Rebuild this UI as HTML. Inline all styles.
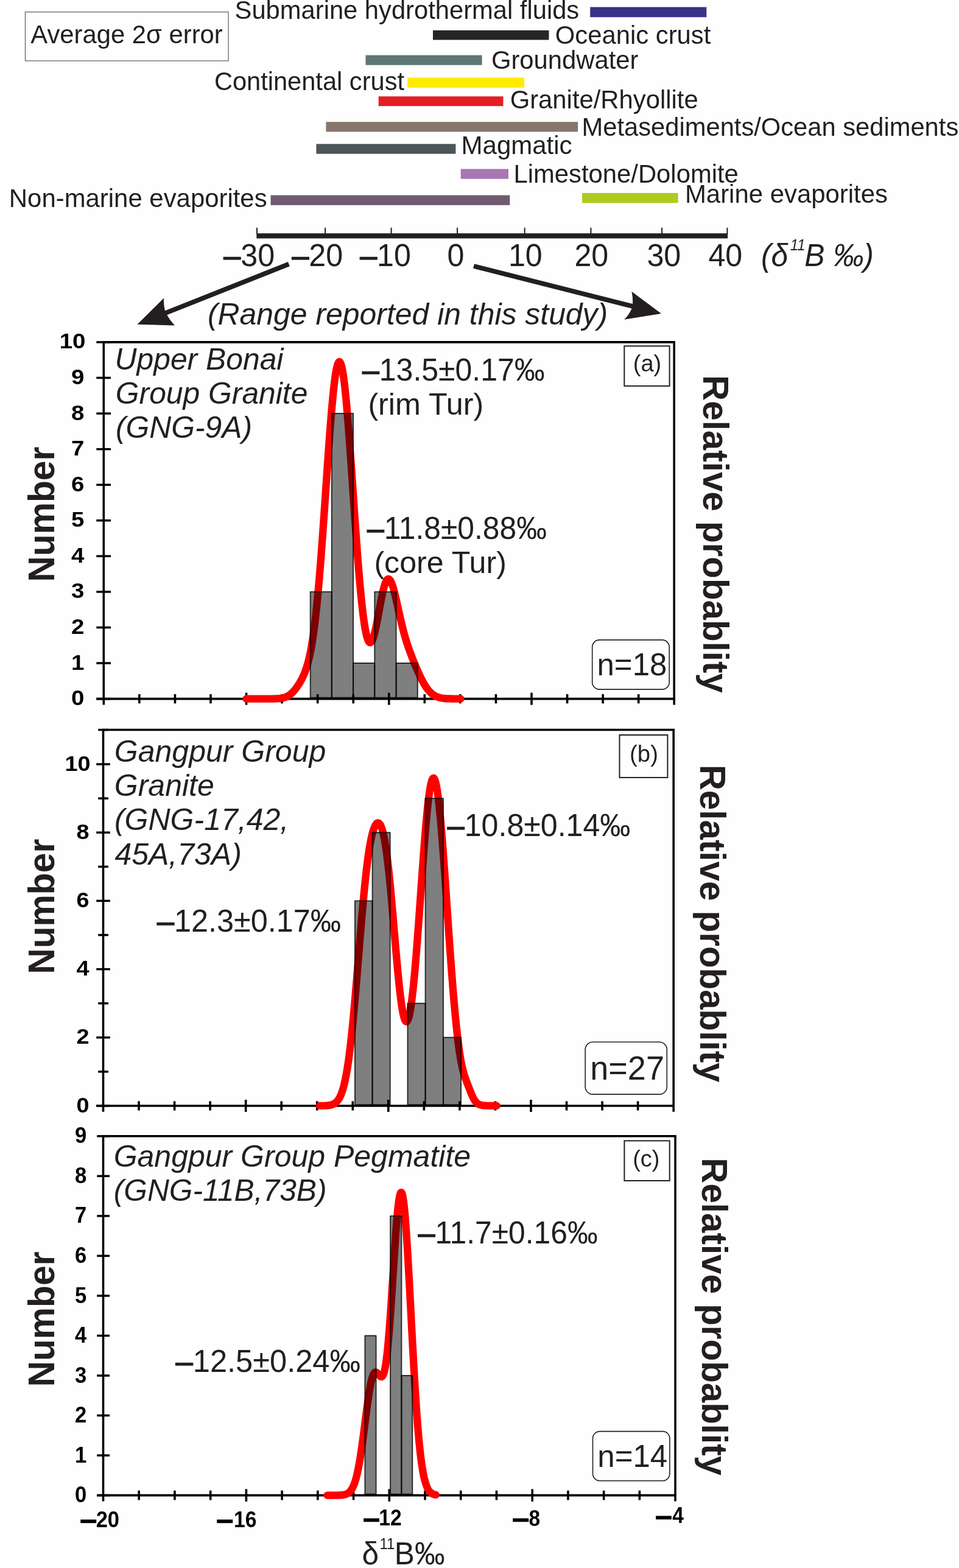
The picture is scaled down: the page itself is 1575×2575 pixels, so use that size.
<!DOCTYPE html>
<html lang="en">
<head>
<meta charset="utf-8">
<title>Boron isotope ranges and histograms</title>
<style>
html,body{margin:0;padding:0;background:#fff;}
body{width:1575px;height:2575px;overflow:hidden;}
svg{display:block;font-family:"Liberation Sans",Arial,Helvetica,sans-serif;}
</style>
</head>
<body>
<svg width="1575" height="2575" viewBox="0 0 1575 2575">
<rect x="0" y="0" width="1575" height="2575" fill="#fefefe"/>
<rect x="41.5" y="19.7" width="333.6" height="80.2" fill="none" stroke="#5a5a5a" stroke-width="1.2"/>
<text x="50.32" y="70.70" font-size="41.8" fill="#231f20">Average 2σ error</text>
<text x="385.61" y="30.50" font-size="41.71" fill="#231f20">Submarine hydrothermal fluids</text>
<text x="911.82" y="72.30" font-size="41.8" fill="#231f20">Oceanic crust</text>
<text x="806.90" y="112.80" font-size="41.8" fill="#231f20">Groundwater</text>
<text x="351.89" y="147.60" font-size="41.6" fill="#231f20">Continental crust</text>
<text x="837.70" y="178.20" font-size="41.8" fill="#231f20">Granite/Rhyollite</text>
<text x="955.58" y="222.50" font-size="41.7" fill="#231f20">Metasediments/Ocean sediments</text>
<text x="757.55" y="253.20" font-size="42.0" fill="#231f20">Magmatic</text>
<text x="843.47" y="299.90" font-size="41.8" fill="#231f20">Limestone/Dolomite</text>
<text x="1124.96" y="333.30" font-size="41.9" fill="#231f20">Marine evaporites</text>
<text x="14.86" y="340.20" font-size="41.9" fill="#231f20">Non-marine evaporites</text>
<text x="340.96" y="533.40" font-size="49.9" font-style="italic" fill="#231f20">(Range reported in this study)</text>
<rect x="969.20" y="11.60" width="191.10" height="16.60" fill="#3b3187"/>
<rect x="711.00" y="49.80" width="190.50" height="15.70" fill="#272625"/>
<rect x="600.50" y="90.60" width="191.10" height="16.20" fill="#5c7674"/>
<rect x="669.20" y="127.40" width="191.80" height="16.60" fill="#ffec00"/>
<rect x="621.70" y="158.30" width="204.80" height="15.90" fill="#e31e24"/>
<rect x="535.40" y="200.20" width="413.70" height="16.20" fill="#86766d"/>
<rect x="519.40" y="236.40" width="229.00" height="16.20" fill="#4c5558"/>
<rect x="756.70" y="277.50" width="78.30" height="16.30" fill="#a876b3"/>
<rect x="444.50" y="320.60" width="392.80" height="16.30" fill="#715b72"/>
<rect x="956.00" y="316.90" width="157.60" height="16.40" fill="#afca1f"/>
<rect x="421.3" y="383.2" width="773.90" height="8.30" fill="#231f20"/>
<rect x="421.00" y="373.9" width="2" height="10.30" fill="#231f20"/>
<rect x="533.10" y="373.9" width="2" height="10.30" fill="#231f20"/>
<rect x="641.60" y="373.9" width="2" height="10.30" fill="#231f20"/>
<rect x="750.10" y="373.9" width="2" height="10.30" fill="#231f20"/>
<rect x="860.70" y="373.9" width="2" height="10.30" fill="#231f20"/>
<rect x="969.40" y="373.9" width="2" height="10.30" fill="#231f20"/>
<rect x="1086.10" y="373.9" width="2" height="10.30" fill="#231f20"/>
<rect x="1193.40" y="373.9" width="2" height="10.30" fill="#231f20"/>
<text transform="translate(367.30 437.00) scale(1 1.03)" font-size="50.2" fill="#231f20"><tspan stroke="#231f20" stroke-width="1.31">–</tspan>30</text>
<text transform="translate(479.40 437.00) scale(1 1.03)" font-size="50.2" fill="#231f20"><tspan stroke="#231f20" stroke-width="1.31">–</tspan>20</text>
<text transform="translate(591.20 437.00) scale(1 1.03)" font-size="50.2" fill="#231f20"><tspan stroke="#231f20" stroke-width="1.31">–</tspan>10</text>
<text transform="translate(734.54 437.00) scale(1 1.03)" font-size="50.2" fill="#231f20">0</text>
<text transform="translate(834.88 437.00) scale(1 1.03)" font-size="50.2" fill="#231f20">10</text>
<text transform="translate(943.38 437.00) scale(1 1.03)" font-size="50.2" fill="#231f20">20</text>
<text transform="translate(1062.39 437.00) scale(1 1.03)" font-size="50.2" fill="#231f20">30</text>
<text transform="translate(1163.45 437.00) scale(1 1.03)" font-size="50.2" fill="#231f20">40</text>
<text transform="translate(1250 437) scale(1 1.05)" font-size="49.8" font-style="italic" fill="#231f20">(δ<tspan font-size="24" dy="-24.4" dx="3.5">11</tspan><tspan dy="24.4" dx="-1.3">B ‰)</tspan></text>
<line x1="474.4" y1="433.6" x2="262" y2="518" stroke="#231f20" stroke-width="7.7"/>
<path d="M225.5 532.7L269 489.6Q268.5 503 271.8 512.6Q277.5 524.5 287 534.4Z" fill="#231f20"/>
<line x1="778" y1="437" x2="1045" y2="504.5" stroke="#231f20" stroke-width="7.7"/>
<path d="M1085.9 514.9L1037.4 478.7Q1040.3 492 1038.4 504.3Q1034.5 515.5 1025.1 524.8Z" fill="#231f20"/>
<path d="M170.3 1157.3999999999999V561.85H1107.2V1157.3999999999999" fill="none" stroke="#000" stroke-width="3.6" stroke-linejoin="miter"/>
<line x1="158.3" y1="1147.6" x2="1107.2" y2="1147.6" stroke="#000" stroke-width="3.6"/>
<line x1="158.3" y1="1147.6" x2="182.0" y2="1147.6" stroke="#000" stroke-width="3.5"/>
<text transform="translate(138.50 1158.10) scale(1.1 1)" font-size="35" font-weight="bold" fill="#000" text-anchor="end">0</text>
<line x1="158.3" y1="1089.03" x2="182.0" y2="1089.03" stroke="#000" stroke-width="3.5"/>
<text transform="translate(138.50 1099.53) scale(1.1 1)" font-size="35" font-weight="bold" fill="#000" text-anchor="end">1</text>
<line x1="158.3" y1="1030.46" x2="182.0" y2="1030.46" stroke="#000" stroke-width="3.5"/>
<text transform="translate(138.50 1040.96) scale(1.1 1)" font-size="35" font-weight="bold" fill="#000" text-anchor="end">2</text>
<line x1="158.3" y1="971.89" x2="182.0" y2="971.89" stroke="#000" stroke-width="3.5"/>
<text transform="translate(138.50 982.39) scale(1.1 1)" font-size="35" font-weight="bold" fill="#000" text-anchor="end">3</text>
<line x1="158.3" y1="913.32" x2="182.0" y2="913.32" stroke="#000" stroke-width="3.5"/>
<text transform="translate(138.50 923.82) scale(1.1 1)" font-size="35" font-weight="bold" fill="#000" text-anchor="end">4</text>
<line x1="158.3" y1="854.75" x2="182.0" y2="854.75" stroke="#000" stroke-width="3.5"/>
<text transform="translate(138.50 865.25) scale(1.1 1)" font-size="35" font-weight="bold" fill="#000" text-anchor="end">5</text>
<line x1="158.3" y1="796.18" x2="182.0" y2="796.18" stroke="#000" stroke-width="3.5"/>
<text transform="translate(138.50 806.68) scale(1.1 1)" font-size="35" font-weight="bold" fill="#000" text-anchor="end">6</text>
<line x1="158.3" y1="737.61" x2="182.0" y2="737.61" stroke="#000" stroke-width="3.5"/>
<text transform="translate(138.50 748.11) scale(1.1 1)" font-size="35" font-weight="bold" fill="#000" text-anchor="end">7</text>
<line x1="158.3" y1="679.04" x2="182.0" y2="679.04" stroke="#000" stroke-width="3.5"/>
<text transform="translate(138.50 689.54) scale(1.1 1)" font-size="35" font-weight="bold" fill="#000" text-anchor="end">8</text>
<line x1="158.3" y1="620.47" x2="182.0" y2="620.47" stroke="#000" stroke-width="3.5"/>
<text transform="translate(138.50 630.97) scale(1.1 1)" font-size="35" font-weight="bold" fill="#000" text-anchor="end">9</text>
<line x1="158.3" y1="561.9" x2="182.0" y2="561.9" stroke="#000" stroke-width="3.5"/>
<text transform="translate(140.50 572.40) scale(1.1 1)" font-size="35" font-weight="bold" fill="#000" text-anchor="end">10</text>
<line x1="228.86" y1="1140.0" x2="228.86" y2="1155.1999999999998" stroke="#000" stroke-width="3.6"/>
<line x1="287.42" y1="1140.0" x2="287.42" y2="1155.1999999999998" stroke="#000" stroke-width="3.6"/>
<line x1="345.98" y1="1140.0" x2="345.98" y2="1155.1999999999998" stroke="#000" stroke-width="3.6"/>
<line x1="404.54" y1="1137.6" x2="404.54" y2="1157.6" stroke="#000" stroke-width="3.6"/>
<line x1="463.10" y1="1140.0" x2="463.10" y2="1155.1999999999998" stroke="#000" stroke-width="3.6"/>
<line x1="521.66" y1="1140.0" x2="521.66" y2="1155.1999999999998" stroke="#000" stroke-width="3.6"/>
<line x1="580.22" y1="1140.0" x2="580.22" y2="1155.1999999999998" stroke="#000" stroke-width="3.6"/>
<line x1="638.78" y1="1137.6" x2="638.78" y2="1157.6" stroke="#000" stroke-width="3.6"/>
<line x1="697.34" y1="1140.0" x2="697.34" y2="1155.1999999999998" stroke="#000" stroke-width="3.6"/>
<line x1="755.90" y1="1140.0" x2="755.90" y2="1155.1999999999998" stroke="#000" stroke-width="3.6"/>
<line x1="814.46" y1="1140.0" x2="814.46" y2="1155.1999999999998" stroke="#000" stroke-width="3.6"/>
<line x1="873.02" y1="1137.6" x2="873.02" y2="1157.6" stroke="#000" stroke-width="3.6"/>
<line x1="931.58" y1="1140.0" x2="931.58" y2="1155.1999999999998" stroke="#000" stroke-width="3.6"/>
<line x1="990.14" y1="1140.0" x2="990.14" y2="1155.1999999999998" stroke="#000" stroke-width="3.6"/>
<line x1="1048.70" y1="1140.0" x2="1048.70" y2="1155.1999999999998" stroke="#000" stroke-width="3.6"/>
<text x="188.58" y="607.20" font-size="49.8" font-style="italic" fill="#231f20">Upper Bonai</text>
<text x="189.84" y="663.00" font-size="49.8" font-style="italic" fill="#231f20">Group Granite</text>
<text x="189.97" y="718.50" font-size="49.8" font-style="italic" fill="#231f20">(GNG-9A)</text>
<text transform="translate(595.00 624.90) scale(1 1.03)" font-size="50.0" fill="#231f20"><tspan stroke="#231f20" stroke-width="1.30">–</tspan>13.5±0.17‰</text>
<text x="604.38" y="680.60" font-size="50.3" fill="#231f20">(rim Tur)</text>
<text transform="translate(603.00 884.50) scale(1 1.03)" font-size="49.8" fill="#231f20"><tspan stroke="#231f20" stroke-width="1.29">–</tspan>11.8±0.88‰</text>
<text x="614.39" y="940.80" font-size="50.2" fill="#231f20">(core Tur)</text>
<text x="1039.84" y="609.80" font-size="38.0" fill="#231f20">(a)</text>
<text transform="translate(980.51 1109.10) scale(1 1.03)" font-size="51.0" fill="#231f20">n=18</text>
<path d="M404.50 1147.60C404.83 1147.60 405.83 1147.60 406.50 1147.60C407.17 1147.60 407.83 1147.60 408.50 1147.60C409.17 1147.60 409.83 1147.60 410.50 1147.60C411.17 1147.60 411.83 1147.60 412.50 1147.60C413.17 1147.60 413.83 1147.60 414.50 1147.60C415.17 1147.60 415.83 1147.60 416.50 1147.60C417.17 1147.60 417.83 1147.60 418.50 1147.60C419.17 1147.60 419.83 1147.60 420.50 1147.60C421.17 1147.60 421.83 1147.60 422.50 1147.60C423.17 1147.60 423.83 1147.60 424.50 1147.60C425.17 1147.60 425.83 1147.60 426.50 1147.60C427.17 1147.60 427.83 1147.60 428.50 1147.60C429.17 1147.60 429.83 1147.60 430.50 1147.60C431.17 1147.60 431.83 1147.60 432.50 1147.60C433.17 1147.60 433.83 1147.60 434.50 1147.60C435.17 1147.60 435.83 1147.60 436.50 1147.60C437.17 1147.60 437.83 1147.60 438.50 1147.59C439.17 1147.59 439.83 1147.59 440.50 1147.59C441.17 1147.59 441.83 1147.59 442.50 1147.58C443.17 1147.58 443.83 1147.58 444.50 1147.57C445.17 1147.57 445.83 1147.57 446.50 1147.56C447.17 1147.55 447.83 1147.54 448.50 1147.53C449.17 1147.52 449.83 1147.51 450.50 1147.50C451.17 1147.48 451.83 1147.46 452.50 1147.44C453.17 1147.42 453.83 1147.39 454.50 1147.36C455.17 1147.33 455.83 1147.29 456.50 1147.25C457.17 1147.20 457.83 1147.15 458.50 1147.08C459.17 1147.02 459.83 1146.95 460.50 1146.86C461.17 1146.78 461.83 1146.68 462.50 1146.56C463.17 1146.45 463.83 1146.32 464.50 1146.16C465.17 1146.01 465.83 1145.84 466.50 1145.65C467.17 1145.45 467.83 1145.24 468.50 1144.99C469.17 1144.74 469.83 1144.47 470.50 1144.16C471.17 1143.86 471.83 1143.52 472.50 1143.15C473.17 1142.78 473.83 1142.38 474.50 1141.94C475.17 1141.50 475.83 1141.02 476.50 1140.50C477.17 1139.98 477.83 1139.43 478.50 1138.83C479.17 1138.24 479.83 1137.61 480.50 1136.93C481.17 1136.26 481.83 1135.55 482.50 1134.80C483.17 1134.05 483.83 1133.26 484.50 1132.44C485.17 1131.62 485.83 1130.75 486.50 1129.86C487.17 1128.96 487.83 1128.03 488.50 1127.06C489.17 1126.09 489.83 1125.09 490.50 1124.04C491.17 1122.99 491.83 1121.92 492.50 1120.79C493.17 1119.66 493.83 1118.49 494.50 1117.27C495.17 1116.04 495.83 1114.77 496.50 1113.42C497.17 1112.07 497.83 1110.68 498.50 1109.17C499.17 1107.67 499.83 1106.11 500.50 1104.42C501.17 1102.72 501.83 1100.95 502.50 1099.01C503.17 1097.07 503.83 1095.03 504.50 1092.80C505.17 1090.56 505.83 1088.19 506.50 1085.59C507.17 1082.99 507.83 1080.23 508.50 1077.21C509.17 1074.18 509.83 1070.96 510.50 1067.45C511.17 1063.94 511.83 1060.19 512.50 1056.13C513.17 1052.06 513.83 1047.74 514.50 1043.07C515.17 1038.41 515.83 1033.45 516.50 1028.15C517.17 1022.84 517.83 1017.22 518.50 1011.25C519.17 1005.28 519.83 998.98 520.50 992.34C521.17 985.70 521.83 978.72 522.50 971.42C523.17 964.12 523.83 956.48 524.50 948.56C525.17 940.64 525.83 932.39 526.50 923.91C527.17 915.43 527.83 906.63 528.50 897.67C529.17 888.70 529.83 879.46 530.50 870.12C531.17 860.77 531.83 851.20 532.50 841.60C533.17 831.99 533.83 822.22 534.50 812.50C535.17 802.79 535.83 792.97 536.50 783.30C537.17 773.62 537.83 763.92 538.50 754.46C539.17 745.00 539.83 735.60 540.50 726.52C541.17 717.44 541.83 708.51 542.50 700.00C543.17 691.49 543.83 683.21 544.50 675.44C545.17 667.66 545.83 660.22 546.50 653.34C547.17 646.47 547.83 640.01 548.50 634.18C549.17 628.36 549.83 623.04 550.50 618.39C551.17 613.75 551.83 609.68 552.50 606.32C553.17 602.96 553.83 600.24 554.50 598.25C555.17 596.25 555.83 594.94 556.50 594.36C557.17 593.77 557.83 593.91 558.50 594.75C559.17 595.59 559.83 597.16 560.50 599.40C561.17 601.65 561.83 604.62 562.50 608.22C563.17 611.82 563.83 616.13 564.50 621.00C565.17 625.87 565.83 631.41 566.50 637.44C567.17 643.47 567.83 650.12 568.50 657.18C569.17 664.24 569.83 671.85 570.50 679.78C571.17 687.72 571.83 696.13 572.50 704.77C573.17 713.42 573.83 722.46 574.50 731.63C575.17 740.81 575.83 750.30 576.50 759.83C577.17 769.36 577.83 779.12 578.50 788.83C579.17 798.54 579.83 808.39 580.50 818.11C581.17 827.83 581.83 837.60 582.50 847.17C583.17 856.74 583.83 866.27 584.50 875.54C585.17 884.81 585.83 893.96 586.50 902.80C587.17 911.64 587.83 920.29 588.50 928.58C589.17 936.87 589.83 944.90 590.50 952.53C591.17 960.17 591.83 967.49 592.50 974.38C593.17 981.28 593.83 987.81 594.50 993.90C595.17 999.98 595.83 1005.67 596.50 1010.89C597.17 1016.11 597.83 1020.91 598.50 1025.22C599.17 1029.54 599.83 1033.41 600.50 1036.80C601.17 1040.19 601.83 1043.11 602.50 1045.56C603.17 1048.01 603.83 1049.99 604.50 1051.51C605.17 1053.03 605.83 1054.07 606.50 1054.68C607.17 1055.29 607.83 1055.43 608.50 1055.18C609.17 1054.92 609.83 1054.21 610.50 1053.15C611.17 1052.09 611.83 1050.59 612.50 1048.80C613.17 1047.01 613.83 1044.82 614.50 1042.40C615.17 1039.98 615.83 1037.21 616.50 1034.28C617.17 1031.35 617.83 1028.12 618.50 1024.81C619.17 1021.50 619.83 1017.97 620.50 1014.43C621.17 1010.89 621.83 1007.19 622.50 1003.58C623.17 999.97 623.83 996.28 624.50 992.75C625.17 989.21 625.83 985.69 626.50 982.39C627.17 979.09 627.83 975.89 628.50 972.96C629.17 970.04 629.83 967.28 630.50 964.86C631.17 962.43 631.83 960.24 632.50 958.40C633.17 956.56 633.83 955.01 634.50 953.83C635.17 952.65 635.83 951.80 636.50 951.31C637.17 950.82 637.83 950.68 638.50 950.87C639.17 951.07 639.83 951.63 640.50 952.47C641.17 953.32 641.83 954.53 642.50 955.97C643.17 957.42 643.83 959.19 644.50 961.15C645.17 963.11 645.83 965.35 646.50 967.73C647.17 970.10 647.83 972.71 648.50 975.40C649.17 978.08 649.83 980.95 650.50 983.84C651.17 986.74 651.83 989.75 652.50 992.75C653.17 995.75 653.83 998.82 654.50 1001.84C655.17 1004.86 655.83 1007.89 656.50 1010.86C657.17 1013.82 657.83 1016.77 658.50 1019.62C659.17 1022.48 659.83 1025.29 660.50 1028.00C661.17 1030.71 661.83 1033.35 662.50 1035.90C663.17 1038.45 663.83 1040.91 664.50 1043.29C665.17 1045.67 665.83 1047.96 666.50 1050.18C667.17 1052.40 667.83 1054.54 668.50 1056.61C669.17 1058.69 669.83 1060.68 670.50 1062.64C671.17 1064.59 671.83 1066.47 672.50 1068.32C673.17 1070.17 673.83 1071.97 674.50 1073.74C675.17 1075.51 675.83 1077.23 676.50 1078.94C677.17 1080.65 677.83 1082.32 678.50 1083.98C679.17 1085.63 679.83 1087.27 680.50 1088.88C681.17 1090.50 681.83 1092.10 682.50 1093.68C683.17 1095.25 683.83 1096.82 684.50 1098.35C685.17 1099.89 685.83 1101.42 686.50 1102.91C687.17 1104.41 687.83 1105.88 688.50 1107.33C689.17 1108.77 689.83 1110.19 690.50 1111.57C691.17 1112.96 691.83 1114.31 692.50 1115.63C693.17 1116.94 693.83 1118.22 694.50 1119.45C695.17 1120.69 695.83 1121.88 696.50 1123.03C697.17 1124.18 697.83 1125.29 698.50 1126.34C699.17 1127.40 699.83 1128.41 700.50 1129.37C701.17 1130.33 701.83 1131.24 702.50 1132.11C703.17 1132.97 703.83 1133.78 704.50 1134.55C705.17 1135.32 705.83 1136.04 706.50 1136.71C707.17 1137.39 707.83 1138.01 708.50 1138.60C709.17 1139.18 709.83 1139.72 710.50 1140.23C711.17 1140.73 711.83 1141.19 712.50 1141.62C713.17 1142.05 713.83 1142.43 714.50 1142.79C715.17 1143.15 715.83 1143.47 716.50 1143.77C717.17 1144.07 717.83 1144.34 718.50 1144.58C719.17 1144.83 719.83 1145.04 720.50 1145.24C721.17 1145.44 721.83 1145.62 722.50 1145.78C723.17 1145.94 723.83 1146.07 724.50 1146.20C725.17 1146.33 725.83 1146.44 726.50 1146.54C727.17 1146.64 727.83 1146.72 728.50 1146.80C729.17 1146.88 729.83 1146.94 730.50 1147.00C731.17 1147.06 731.83 1147.12 732.50 1147.16C733.17 1147.21 733.83 1147.24 734.50 1147.28C735.17 1147.31 735.83 1147.34 736.50 1147.37C737.17 1147.39 737.83 1147.41 738.50 1147.43C739.17 1147.45 739.83 1147.47 740.50 1147.48C741.17 1147.50 741.83 1147.51 742.50 1147.52C743.17 1147.53 743.83 1147.53 744.50 1147.54C745.17 1147.55 745.83 1147.55 746.50 1147.56C747.17 1147.56 747.83 1147.57 748.50 1147.57C749.17 1147.58 749.83 1147.58 750.50 1147.58C751.17 1147.58 751.83 1147.59 752.50 1147.59C753.17 1147.59 753.83 1147.59 754.50 1147.59C755.17 1147.59 756.17 1147.59 756.50 1147.59" fill="none" stroke="#ff0000" stroke-width="12.3" stroke-linecap="round" stroke-linejoin="round"/>
<rect x="509.7" y="971.89" width="35.10" height="173.91" fill="#000" fill-opacity="0.5" stroke="#000" stroke-opacity="0.78" stroke-width="1.9" stroke-linejoin="round"/>
<rect x="544.8" y="679.04" width="35.30" height="466.76" fill="#000" fill-opacity="0.5" stroke="#000" stroke-opacity="0.78" stroke-width="1.9" stroke-linejoin="round"/>
<rect x="580.1" y="1089.03" width="35.20" height="56.77" fill="#000" fill-opacity="0.5" stroke="#000" stroke-opacity="0.78" stroke-width="1.9" stroke-linejoin="round"/>
<rect x="615.3" y="971.89" width="35.30" height="173.91" fill="#000" fill-opacity="0.5" stroke="#000" stroke-opacity="0.78" stroke-width="1.9" stroke-linejoin="round"/>
<rect x="650.6" y="1089.03" width="35.20" height="56.77" fill="#000" fill-opacity="0.5" stroke="#000" stroke-opacity="0.78" stroke-width="1.9" stroke-linejoin="round"/>
<rect x="1025.3" y="568.3" width="74.30" height="65.60" rx="0" fill="none" stroke="#231f20" stroke-width="2"/>
<rect x="972.7" y="1050.9" width="126.50" height="81.20" rx="11.7" fill="none" stroke="#231f20" stroke-width="1.6"/>
<text transform="translate(88.9 955.7) rotate(-90) scale(1 1.04)" font-size="58.8" font-weight="bold" fill="#231f20">Number</text>
<text transform="translate(1155.1 616.1) rotate(90) scale(1 1.03)" font-size="58.33" font-weight="bold" fill="#231f20">Relative probablity</text>
<path d="M169.5 1825.8V1198.55H1106.2V1825.8" fill="none" stroke="#000" stroke-width="3.6" stroke-linejoin="miter"/>
<line x1="158.2" y1="1816.0" x2="1106.2" y2="1816.0" stroke="#000" stroke-width="3.6"/>
<line x1="158.2" y1="1816.0" x2="180.8" y2="1816.0" stroke="#000" stroke-width="3.5"/>
<text transform="translate(146.50 1826.60) scale(1.063 1)" font-size="35.6" font-weight="bold" fill="#000" text-anchor="end">0</text>
<line x1="161.2" y1="1759.9" x2="178.0" y2="1759.9" stroke="#000" stroke-width="3.5"/>
<line x1="158.2" y1="1703.8" x2="180.8" y2="1703.8" stroke="#000" stroke-width="3.5"/>
<text transform="translate(146.50 1714.40) scale(1.063 1)" font-size="35.6" font-weight="bold" fill="#000" text-anchor="end">2</text>
<line x1="161.2" y1="1647.7" x2="178.0" y2="1647.7" stroke="#000" stroke-width="3.5"/>
<line x1="158.2" y1="1591.6" x2="180.8" y2="1591.6" stroke="#000" stroke-width="3.5"/>
<text transform="translate(146.50 1602.20) scale(1.063 1)" font-size="35.6" font-weight="bold" fill="#000" text-anchor="end">4</text>
<line x1="161.2" y1="1535.5" x2="178.0" y2="1535.5" stroke="#000" stroke-width="3.5"/>
<line x1="158.2" y1="1479.4" x2="180.8" y2="1479.4" stroke="#000" stroke-width="3.5"/>
<text transform="translate(146.50 1490.00) scale(1.063 1)" font-size="35.6" font-weight="bold" fill="#000" text-anchor="end">6</text>
<line x1="161.2" y1="1423.3" x2="178.0" y2="1423.3" stroke="#000" stroke-width="3.5"/>
<line x1="158.2" y1="1367.2" x2="180.8" y2="1367.2" stroke="#000" stroke-width="3.5"/>
<text transform="translate(146.50 1377.80) scale(1.063 1)" font-size="35.6" font-weight="bold" fill="#000" text-anchor="end">8</text>
<line x1="161.2" y1="1311.1" x2="178.0" y2="1311.1" stroke="#000" stroke-width="3.5"/>
<line x1="158.2" y1="1255.0" x2="180.8" y2="1255.0" stroke="#000" stroke-width="3.5"/>
<text transform="translate(148.50 1265.60) scale(1.063 1)" font-size="35.6" font-weight="bold" fill="#000" text-anchor="end">10</text>
<line x1="161.2" y1="1198.55" x2="178.0" y2="1198.55" stroke="#000" stroke-width="3.5"/>
<line x1="228.04" y1="1808.4" x2="228.04" y2="1823.6" stroke="#000" stroke-width="3.6"/>
<line x1="286.58" y1="1808.4" x2="286.58" y2="1823.6" stroke="#000" stroke-width="3.6"/>
<line x1="345.12" y1="1808.4" x2="345.12" y2="1823.6" stroke="#000" stroke-width="3.6"/>
<line x1="403.66" y1="1806.0" x2="403.66" y2="1826.0" stroke="#000" stroke-width="3.6"/>
<line x1="462.20" y1="1808.4" x2="462.20" y2="1823.6" stroke="#000" stroke-width="3.6"/>
<line x1="520.74" y1="1808.4" x2="520.74" y2="1823.6" stroke="#000" stroke-width="3.6"/>
<line x1="579.28" y1="1808.4" x2="579.28" y2="1823.6" stroke="#000" stroke-width="3.6"/>
<line x1="637.82" y1="1806.0" x2="637.82" y2="1826.0" stroke="#000" stroke-width="3.6"/>
<line x1="696.36" y1="1808.4" x2="696.36" y2="1823.6" stroke="#000" stroke-width="3.6"/>
<line x1="754.90" y1="1808.4" x2="754.90" y2="1823.6" stroke="#000" stroke-width="3.6"/>
<line x1="813.44" y1="1808.4" x2="813.44" y2="1823.6" stroke="#000" stroke-width="3.6"/>
<line x1="871.98" y1="1806.0" x2="871.98" y2="1826.0" stroke="#000" stroke-width="3.6"/>
<line x1="930.52" y1="1808.4" x2="930.52" y2="1823.6" stroke="#000" stroke-width="3.6"/>
<line x1="989.06" y1="1808.4" x2="989.06" y2="1823.6" stroke="#000" stroke-width="3.6"/>
<line x1="1047.60" y1="1808.4" x2="1047.60" y2="1823.6" stroke="#000" stroke-width="3.6"/>
<text x="187.83" y="1251.30" font-size="50.0" font-style="italic" fill="#231f20">Gangpur Group</text>
<text x="187.83" y="1307.10" font-size="50.0" font-style="italic" fill="#231f20">Granite</text>
<text x="187.96" y="1363.20" font-size="50.0" font-style="italic" fill="#231f20">(GNG-17,42,</text>
<text x="188.38" y="1419.80" font-size="50.0" font-style="italic" fill="#231f20">45A,73A)</text>
<text transform="translate(734.80 1373.30) scale(1 1.03)" font-size="50.15" fill="#231f20"><tspan stroke="#231f20" stroke-width="1.30">–</tspan>10.8±0.14‰</text>
<text transform="translate(258.00 1529.90) scale(1 1.03)" font-size="50.4" fill="#231f20"><tspan stroke="#231f20" stroke-width="1.31">–</tspan>12.3±0.17‰</text>
<text x="1034.12" y="1251.40" font-size="38.3" fill="#231f20">(b)</text>
<text transform="translate(969.31 1773.20) scale(1 1.03)" font-size="54.0" fill="#231f20">n=27</text>
<path d="M525.00 1815.97C525.33 1815.97 526.34 1815.96 527.01 1815.95C527.67 1815.95 528.34 1815.94 529.01 1815.93C529.68 1815.91 530.35 1815.90 531.02 1815.88C531.69 1815.87 532.35 1815.85 533.02 1815.82C533.69 1815.80 534.36 1815.77 535.03 1815.73C535.70 1815.69 536.36 1815.65 537.03 1815.59C537.70 1815.54 538.37 1815.48 539.04 1815.40C539.71 1815.32 540.38 1815.23 541.04 1815.11C541.71 1815.00 542.38 1814.87 543.05 1814.71C543.72 1814.56 544.39 1814.38 545.06 1814.16C545.72 1813.94 546.39 1813.69 547.06 1813.39C547.73 1813.09 548.40 1812.76 549.07 1812.36C549.73 1811.95 550.40 1811.51 551.07 1810.97C551.74 1810.43 552.41 1809.84 553.08 1809.13C553.75 1808.43 554.41 1807.65 555.08 1806.74C555.75 1805.82 556.42 1804.82 557.09 1803.65C557.76 1802.49 558.43 1801.21 559.09 1799.74C559.76 1798.28 560.43 1796.67 561.10 1794.85C561.77 1793.02 562.44 1791.04 563.10 1788.80C563.77 1786.57 564.44 1784.14 565.11 1781.44C565.78 1778.75 566.45 1775.83 567.12 1772.61C567.78 1769.40 568.45 1765.93 569.12 1762.16C569.79 1758.38 570.46 1754.33 571.13 1749.96C571.80 1745.60 572.46 1740.93 573.13 1735.95C573.80 1730.96 574.47 1725.67 575.14 1720.07C575.81 1714.47 576.47 1708.55 577.14 1702.36C577.81 1696.16 578.48 1689.65 579.15 1682.89C579.82 1676.14 580.49 1669.08 581.15 1661.83C581.82 1654.58 582.49 1647.05 583.16 1639.40C583.83 1631.74 584.50 1623.84 585.17 1615.88C585.83 1607.91 586.50 1599.76 587.17 1591.62C587.84 1583.47 588.51 1575.20 589.18 1567.01C589.85 1558.81 590.51 1550.56 591.18 1542.46C591.85 1534.35 592.52 1526.26 593.19 1518.38C593.86 1510.49 594.52 1502.70 595.19 1495.16C595.86 1487.63 596.53 1480.25 597.20 1473.18C597.87 1466.11 598.54 1459.25 599.20 1452.73C599.87 1446.20 600.54 1439.94 601.21 1434.03C601.88 1428.12 602.55 1422.52 603.22 1417.26C603.88 1412.00 604.55 1407.08 605.22 1402.49C605.89 1397.90 606.56 1393.66 607.23 1389.74C607.89 1385.81 608.56 1382.23 609.23 1378.96C609.90 1375.68 610.57 1372.73 611.24 1370.07C611.91 1367.41 612.57 1365.07 613.24 1362.99C613.91 1360.92 614.58 1359.14 615.25 1357.63C615.92 1356.11 616.59 1354.88 617.25 1353.91C617.92 1352.95 618.59 1352.25 619.26 1351.83C619.93 1351.41 620.60 1351.26 621.26 1351.40C621.93 1351.54 622.60 1351.96 623.27 1352.70C623.94 1353.44 624.61 1354.46 625.28 1355.83C625.94 1357.21 626.61 1358.89 627.28 1360.94C627.95 1363.00 628.62 1365.39 629.29 1368.17C629.96 1370.95 630.62 1374.10 631.29 1377.64C631.96 1381.19 632.63 1385.12 633.30 1389.44C633.97 1393.76 634.63 1398.48 635.30 1403.57C635.97 1408.67 636.64 1414.16 637.31 1419.99C637.98 1425.81 638.65 1432.03 639.31 1438.51C639.98 1445.00 640.65 1451.85 641.32 1458.90C641.99 1465.94 642.66 1473.31 643.33 1480.79C643.99 1488.26 644.66 1495.99 645.33 1503.74C646.00 1511.48 646.67 1519.41 647.34 1527.25C648.01 1535.09 648.67 1543.02 649.34 1550.77C650.01 1558.52 650.68 1566.27 651.35 1573.73C652.02 1581.19 652.68 1588.56 653.35 1595.55C654.02 1602.55 654.69 1609.35 655.36 1615.70C656.03 1622.05 656.70 1628.11 657.36 1633.66C658.03 1639.21 658.70 1644.39 659.37 1649.00C660.04 1653.61 660.71 1657.78 661.38 1661.35C662.04 1664.91 662.71 1667.97 663.38 1670.40C664.05 1672.84 664.72 1674.71 665.39 1675.96C666.05 1677.21 666.72 1677.86 667.39 1677.88C668.06 1677.90 668.73 1677.31 669.40 1676.10C670.07 1674.90 670.73 1673.06 671.40 1670.64C672.07 1668.22 672.74 1665.18 673.41 1661.59C674.08 1657.99 674.75 1653.78 675.41 1649.07C676.08 1644.36 676.75 1639.06 677.42 1633.30C678.09 1627.55 678.76 1621.24 679.42 1614.55C680.09 1607.85 680.76 1600.64 681.43 1593.11C682.10 1585.59 682.77 1577.60 683.44 1569.38C684.10 1561.15 684.77 1552.53 685.44 1543.75C686.11 1534.97 686.78 1525.87 687.45 1516.70C688.12 1507.54 688.78 1498.12 689.45 1488.74C690.12 1479.36 690.79 1469.82 691.46 1460.40C692.13 1450.99 692.79 1441.51 693.46 1432.26C694.13 1423.01 694.80 1413.79 695.47 1404.89C696.14 1396.00 696.81 1387.24 697.47 1378.90C698.14 1370.55 698.81 1362.44 699.48 1354.84C700.15 1347.23 700.82 1339.96 701.49 1333.27C702.15 1326.58 702.82 1320.31 703.49 1314.69C704.16 1309.07 704.83 1303.96 705.50 1299.55C706.17 1295.13 706.83 1291.30 707.50 1288.20C708.17 1285.10 708.84 1282.65 709.51 1280.93C710.18 1279.22 710.84 1278.21 711.51 1277.93C712.18 1277.65 712.85 1278.09 713.52 1279.26C714.19 1280.42 714.86 1282.32 715.52 1284.89C716.19 1287.47 716.86 1290.78 717.53 1294.70C718.20 1298.63 718.87 1303.27 719.54 1308.46C720.20 1313.65 720.87 1319.50 721.54 1325.83C722.21 1332.16 722.88 1339.10 723.55 1346.43C724.21 1353.75 724.88 1361.62 725.55 1369.78C726.22 1377.94 726.89 1386.57 727.56 1395.40C728.23 1404.22 728.89 1413.42 729.56 1422.74C730.23 1432.05 730.90 1441.64 731.57 1451.26C732.24 1460.88 732.91 1470.69 733.57 1480.45C734.24 1490.20 734.91 1500.06 735.58 1509.78C736.25 1519.51 736.92 1529.26 737.58 1538.81C738.25 1548.36 738.92 1557.85 739.59 1567.10C740.26 1576.35 740.93 1585.47 741.60 1594.30C742.26 1603.13 742.93 1611.77 743.60 1620.09C744.27 1628.41 744.94 1636.49 745.61 1644.22C746.28 1651.95 746.94 1659.40 747.61 1666.49C748.28 1673.57 748.95 1680.34 749.62 1686.72C750.29 1693.10 750.95 1699.14 751.62 1704.78C752.29 1710.43 752.96 1715.70 753.63 1720.59C754.30 1725.48 754.97 1729.98 755.63 1734.12C756.30 1738.26 756.97 1742.00 757.64 1745.43C758.31 1748.86 758.98 1751.91 759.65 1754.72C760.31 1757.54 760.98 1760.01 761.65 1762.34C762.32 1764.67 762.99 1766.72 763.66 1768.73C764.33 1770.73 764.99 1772.54 765.66 1774.36C766.33 1776.19 767.00 1777.91 767.67 1779.67C768.34 1781.42 769.00 1783.15 769.67 1784.89C770.34 1786.62 771.01 1788.37 771.68 1790.07C772.35 1791.78 773.02 1793.49 773.68 1795.11C774.35 1796.73 775.02 1798.32 775.69 1799.78C776.36 1801.23 777.03 1802.62 777.70 1803.85C778.36 1805.09 779.03 1806.22 779.70 1807.21C780.37 1808.20 781.04 1809.06 781.71 1809.81C782.37 1810.56 783.04 1811.18 783.71 1811.73C784.38 1812.27 785.05 1812.70 785.72 1813.08C786.39 1813.46 787.05 1813.74 787.72 1814.00C788.39 1814.26 789.06 1814.45 789.73 1814.63C790.40 1814.80 791.07 1814.93 791.73 1815.05C792.40 1815.17 793.07 1815.25 793.74 1815.34C794.41 1815.42 795.08 1815.48 795.74 1815.53C796.41 1815.59 797.08 1815.63 797.75 1815.67C798.42 1815.71 799.09 1815.74 799.76 1815.77C800.42 1815.80 801.09 1815.82 801.76 1815.84C802.43 1815.86 803.10 1815.88 803.77 1815.89C804.44 1815.90 805.10 1815.91 805.77 1815.92C806.44 1815.93 807.11 1815.94 807.78 1815.95C808.45 1815.96 809.11 1815.96 809.78 1815.96C810.45 1815.97 811.12 1815.97 811.79 1815.98C812.46 1815.98 813.13 1815.98 813.79 1815.98C814.46 1815.99 815.47 1815.99 815.80 1815.99" fill="none" stroke="#ff0000" stroke-width="12.3" stroke-linecap="round" stroke-linejoin="round"/>
<rect x="582.9" y="1479.4" width="28.70" height="334.80" fill="#000" fill-opacity="0.5" stroke="#000" stroke-opacity="0.78" stroke-width="1.9" stroke-linejoin="round"/>
<rect x="611.6" y="1367.2" width="29.10" height="447.00" fill="#000" fill-opacity="0.5" stroke="#000" stroke-opacity="0.78" stroke-width="1.9" stroke-linejoin="round"/>
<rect x="669.5" y="1647.7" width="29.10" height="166.50" fill="#000" fill-opacity="0.5" stroke="#000" stroke-opacity="0.78" stroke-width="1.9" stroke-linejoin="round"/>
<rect x="698.6" y="1311.1" width="29.40" height="503.10" fill="#000" fill-opacity="0.5" stroke="#000" stroke-opacity="0.78" stroke-width="1.9" stroke-linejoin="round"/>
<rect x="728" y="1703.8" width="29.10" height="110.40" fill="#000" fill-opacity="0.5" stroke="#000" stroke-opacity="0.78" stroke-width="1.9" stroke-linejoin="round"/>
<rect x="1017.5" y="1207" width="78.90" height="69.90" rx="0" fill="none" stroke="#231f20" stroke-width="2"/>
<rect x="961.2" y="1711.2" width="134.10" height="85.90" rx="12.4" fill="none" stroke="#231f20" stroke-width="1.6"/>
<text transform="translate(88.9 1599.8) rotate(-90) scale(1 1.04)" font-size="58.8" font-weight="bold" fill="#231f20">Number</text>
<text transform="translate(1149.9 1255.7) rotate(90) scale(1 1.03)" font-size="58.33" font-weight="bold" fill="#231f20">Relative probablity</text>
<path d="M169.5 2465.6V1865.8H1109.05V2465.6" fill="none" stroke="#000" stroke-width="3.6" stroke-linejoin="miter"/>
<line x1="159.3" y1="2455.6" x2="1109.05" y2="2455.6" stroke="#000" stroke-width="3.6"/>
<line x1="159.3" y1="2455.6" x2="180.0" y2="2455.6" stroke="#000" stroke-width="3.5"/>
<text transform="translate(142.40 2467.20) scale(0.955 1)" font-size="36.3" font-weight="bold" fill="#000" text-anchor="end">0</text>
<line x1="159.3" y1="2390.07" x2="180.0" y2="2390.07" stroke="#000" stroke-width="3.5"/>
<text transform="translate(142.40 2401.67) scale(0.955 1)" font-size="36.3" font-weight="bold" fill="#000" text-anchor="end">1</text>
<line x1="159.3" y1="2324.54" x2="180.0" y2="2324.54" stroke="#000" stroke-width="3.5"/>
<text transform="translate(142.40 2336.14) scale(0.955 1)" font-size="36.3" font-weight="bold" fill="#000" text-anchor="end">2</text>
<line x1="159.3" y1="2259.01" x2="180.0" y2="2259.01" stroke="#000" stroke-width="3.5"/>
<text transform="translate(142.40 2270.61) scale(0.955 1)" font-size="36.3" font-weight="bold" fill="#000" text-anchor="end">3</text>
<line x1="159.3" y1="2193.48" x2="180.0" y2="2193.48" stroke="#000" stroke-width="3.5"/>
<text transform="translate(142.40 2205.08) scale(0.955 1)" font-size="36.3" font-weight="bold" fill="#000" text-anchor="end">4</text>
<line x1="159.3" y1="2127.95" x2="180.0" y2="2127.95" stroke="#000" stroke-width="3.5"/>
<text transform="translate(142.40 2139.55) scale(0.955 1)" font-size="36.3" font-weight="bold" fill="#000" text-anchor="end">5</text>
<line x1="159.3" y1="2062.42" x2="180.0" y2="2062.42" stroke="#000" stroke-width="3.5"/>
<text transform="translate(142.40 2074.02) scale(0.955 1)" font-size="36.3" font-weight="bold" fill="#000" text-anchor="end">6</text>
<line x1="159.3" y1="1996.89" x2="180.0" y2="1996.89" stroke="#000" stroke-width="3.5"/>
<text transform="translate(142.40 2008.49) scale(0.955 1)" font-size="36.3" font-weight="bold" fill="#000" text-anchor="end">7</text>
<line x1="159.3" y1="1931.36" x2="180.0" y2="1931.36" stroke="#000" stroke-width="3.5"/>
<text transform="translate(142.40 1942.96) scale(0.955 1)" font-size="36.3" font-weight="bold" fill="#000" text-anchor="end">8</text>
<line x1="159.3" y1="1865.83" x2="180.0" y2="1865.83" stroke="#000" stroke-width="3.5"/>
<text transform="translate(142.40 1877.43) scale(0.955 1)" font-size="36.3" font-weight="bold" fill="#000" text-anchor="end">9</text>
<line x1="228.22" y1="2447.7999999999997" x2="228.22" y2="2463.4" stroke="#000" stroke-width="3.6"/>
<line x1="286.95" y1="2447.7999999999997" x2="286.95" y2="2463.4" stroke="#000" stroke-width="3.6"/>
<line x1="345.68" y1="2447.7999999999997" x2="345.68" y2="2463.4" stroke="#000" stroke-width="3.6"/>
<line x1="404.40" y1="2445.4" x2="404.40" y2="2465.7999999999997" stroke="#000" stroke-width="3.6"/>
<line x1="463.12" y1="2447.7999999999997" x2="463.12" y2="2463.4" stroke="#000" stroke-width="3.6"/>
<line x1="521.85" y1="2447.7999999999997" x2="521.85" y2="2463.4" stroke="#000" stroke-width="3.6"/>
<line x1="580.58" y1="2447.7999999999997" x2="580.58" y2="2463.4" stroke="#000" stroke-width="3.6"/>
<line x1="639.30" y1="2445.4" x2="639.30" y2="2465.7999999999997" stroke="#000" stroke-width="3.6"/>
<line x1="698.02" y1="2447.7999999999997" x2="698.02" y2="2463.4" stroke="#000" stroke-width="3.6"/>
<line x1="756.75" y1="2447.7999999999997" x2="756.75" y2="2463.4" stroke="#000" stroke-width="3.6"/>
<line x1="815.48" y1="2447.7999999999997" x2="815.48" y2="2463.4" stroke="#000" stroke-width="3.6"/>
<line x1="874.20" y1="2445.4" x2="874.20" y2="2465.7999999999997" stroke="#000" stroke-width="3.6"/>
<line x1="932.93" y1="2447.7999999999997" x2="932.93" y2="2463.4" stroke="#000" stroke-width="3.6"/>
<line x1="991.65" y1="2447.7999999999997" x2="991.65" y2="2463.4" stroke="#000" stroke-width="3.6"/>
<line x1="1050.38" y1="2447.7999999999997" x2="1050.38" y2="2463.4" stroke="#000" stroke-width="3.6"/>
<text x="186.63" y="1916.20" font-size="50.0" font-style="italic" fill="#231f20">Gangpur Group Pegmatite</text>
<text x="186.77" y="1972.40" font-size="49.7" font-style="italic" fill="#231f20">(GNG-11B,73B)</text>
<text transform="translate(686.80 2042.00) scale(1 1.03)" font-size="49.8" fill="#231f20"><tspan stroke="#231f20" stroke-width="1.29">–</tspan>11.7±0.16‰</text>
<text transform="translate(288.60 2253.00) scale(1 1.03)" font-size="50.6" fill="#231f20"><tspan stroke="#231f20" stroke-width="1.32">–</tspan>12.5±0.24‰</text>
<text x="1039.14" y="1916.00" font-size="38.0" fill="#231f20">(c)</text>
<text transform="translate(981.31 2408.80) scale(1 1.03)" font-size="51.0" fill="#231f20">n=14</text>
<path d="M537.60 2455.60C537.93 2455.60 538.93 2455.60 539.60 2455.60C540.27 2455.60 540.94 2455.60 541.60 2455.60C542.27 2455.60 542.94 2455.60 543.61 2455.60C544.27 2455.60 544.94 2455.60 545.61 2455.59C546.28 2455.59 546.94 2455.59 547.61 2455.59C548.28 2455.59 548.95 2455.59 549.61 2455.58C550.28 2455.58 550.95 2455.57 551.62 2455.57C552.28 2455.56 552.95 2455.56 553.62 2455.54C554.29 2455.53 554.95 2455.52 555.62 2455.51C556.29 2455.49 556.96 2455.47 557.62 2455.44C558.29 2455.42 558.96 2455.39 559.62 2455.34C560.29 2455.30 560.96 2455.25 561.63 2455.19C562.29 2455.12 562.96 2455.05 563.63 2454.95C564.30 2454.84 564.96 2454.73 565.63 2454.58C566.30 2454.43 566.97 2454.26 567.63 2454.05C568.30 2453.83 568.97 2453.58 569.64 2453.27C570.30 2452.96 570.97 2452.61 571.64 2452.17C572.31 2451.73 572.97 2451.23 573.64 2450.63C574.31 2450.02 574.98 2449.35 575.64 2448.53C576.31 2447.72 576.98 2446.81 577.64 2445.73C578.31 2444.65 578.98 2443.45 579.65 2442.06C580.31 2440.66 580.98 2439.12 581.65 2437.34C582.32 2435.57 582.98 2433.62 583.65 2431.43C584.32 2429.23 584.99 2426.83 585.65 2424.16C586.32 2421.49 586.99 2418.59 587.66 2415.42C588.32 2412.26 588.99 2408.84 589.66 2405.17C590.33 2401.50 590.99 2397.56 591.66 2393.40C592.33 2389.25 593.00 2384.83 593.66 2380.25C594.33 2375.66 595.00 2370.83 595.67 2365.90C596.33 2360.98 597.00 2355.84 597.67 2350.70C598.33 2345.55 599.00 2340.25 599.67 2335.04C600.34 2329.83 601.00 2324.54 601.67 2319.45C602.34 2314.35 603.01 2309.26 603.67 2304.46C604.34 2299.66 605.01 2294.97 605.68 2290.65C606.34 2286.33 607.01 2282.22 607.68 2278.54C608.35 2274.86 609.01 2271.49 609.68 2268.58C610.35 2265.66 611.02 2263.14 611.68 2261.06C612.35 2258.99 613.02 2257.36 613.69 2256.13C614.35 2254.90 615.02 2254.14 615.69 2253.68C616.36 2253.23 617.02 2253.23 617.69 2253.42C618.36 2253.60 619.02 2254.18 619.69 2254.80C620.36 2255.41 621.03 2256.32 621.69 2257.10C622.36 2257.88 623.03 2258.82 623.70 2259.45C624.36 2260.08 625.03 2260.73 625.70 2260.89C626.37 2261.05 627.03 2261.05 627.70 2260.42C628.37 2259.80 629.04 2258.83 629.70 2257.13C630.37 2255.43 631.04 2253.22 631.71 2250.22C632.37 2247.22 633.04 2243.57 633.71 2239.11C634.38 2234.66 635.04 2229.46 635.71 2223.50C636.38 2217.55 637.04 2210.79 637.71 2203.40C638.38 2196.01 639.05 2187.81 639.71 2179.14C640.38 2170.48 641.05 2161.08 641.72 2151.43C642.38 2141.78 643.05 2131.51 643.72 2121.25C644.39 2110.99 645.05 2100.29 645.72 2089.88C646.39 2079.47 647.06 2068.84 647.72 2058.77C648.39 2048.71 649.06 2038.69 649.73 2029.49C650.39 2020.29 651.06 2011.41 651.73 2003.57C652.40 1995.74 653.06 1988.50 653.73 1982.47C654.40 1976.45 655.07 1971.28 655.73 1967.42C656.40 1963.57 657.07 1960.78 657.73 1959.35C658.40 1957.91 659.07 1957.71 659.74 1958.82C660.40 1959.93 661.07 1962.36 661.74 1966.00C662.41 1969.64 663.07 1974.62 663.74 1980.65C664.41 1986.68 665.08 1994.01 665.74 2002.16C666.41 2010.32 667.08 2019.66 667.75 2029.60C668.41 2039.53 669.08 2050.48 669.75 2061.77C670.42 2073.06 671.08 2085.15 671.75 2097.34C672.42 2109.54 673.09 2122.30 673.75 2134.94C674.42 2147.58 675.09 2160.54 675.76 2173.20C676.42 2185.87 677.09 2198.61 677.76 2210.90C678.42 2223.20 679.09 2235.37 679.76 2246.98C680.43 2258.60 681.09 2269.91 681.76 2280.61C682.43 2291.30 683.10 2301.55 683.76 2311.17C684.43 2320.79 685.10 2329.87 685.77 2338.32C686.43 2346.78 687.10 2354.63 687.77 2361.90C688.44 2369.17 689.10 2375.82 689.77 2381.95C690.44 2388.07 691.11 2393.58 691.77 2398.64C692.44 2403.69 693.11 2408.17 693.78 2412.25C694.44 2416.34 695.11 2419.91 695.78 2423.15C696.44 2426.39 697.11 2429.17 697.78 2431.69C698.45 2434.22 699.11 2436.35 699.78 2438.27C700.45 2440.20 701.12 2441.80 701.78 2443.25C702.45 2444.69 703.12 2445.87 703.79 2446.93C704.45 2447.99 705.12 2448.85 705.79 2449.62C706.46 2450.38 707.12 2450.99 707.79 2451.54C708.46 2452.08 709.13 2452.50 709.79 2452.88C710.46 2453.26 711.13 2453.55 711.80 2453.81C712.46 2454.07 713.13 2454.27 713.80 2454.45C714.47 2454.62 715.47 2454.80 715.80 2454.87" fill="none" stroke="#ff0000" stroke-width="12.3" stroke-linecap="round" stroke-linejoin="round"/>
<rect x="599.4" y="2193.48" width="18.20" height="260.32" fill="#000" fill-opacity="0.5" stroke="#000" stroke-opacity="0.78" stroke-width="1.9" stroke-linejoin="round"/>
<rect x="641.1" y="1996.89" width="18.30" height="456.91" fill="#000" fill-opacity="0.5" stroke="#000" stroke-opacity="0.78" stroke-width="1.9" stroke-linejoin="round"/>
<rect x="659.4" y="2259.01" width="17.90" height="194.79" fill="#000" fill-opacity="0.5" stroke="#000" stroke-opacity="0.78" stroke-width="1.9" stroke-linejoin="round"/>
<rect x="1025.4" y="1873.4" width="74.30" height="65.60" rx="0" fill="none" stroke="#231f20" stroke-width="2"/>
<rect x="973.5" y="2350.6" width="126.40" height="81.20" rx="11.7" fill="none" stroke="#231f20" stroke-width="1.6"/>
<text transform="translate(89.3 2277.5) rotate(-90) scale(1 1.04)" font-size="58.8" font-weight="bold" fill="#231f20">Number</text>
<text transform="translate(1152.9 1901.3) rotate(90) scale(1 1.03)" font-size="58.33" font-weight="bold" fill="#231f20">Relative probablity</text>
<text x="130.95" y="2512.05" font-size="51.3" font-weight="bold" fill="#000" stroke="#000" stroke-width="0.6">–</text>
<text transform="translate(157.65 2507.60) scale(0.9334 1)" font-size="37.0" font-weight="bold" fill="#000">20</text>
<text x="355.05" y="2512.05" font-size="51.3" font-weight="bold" fill="#000" stroke="#000" stroke-width="0.6">–</text>
<text transform="translate(384.03 2507.50) scale(0.9100 1)" font-size="37.0" font-weight="bold" fill="#000">16</text>
<text x="595.65" y="2509.75" font-size="51.3" font-weight="bold" fill="#000" stroke="#000" stroke-width="0.6">–</text>
<text transform="translate(622.33 2505.30) scale(0.9100 1)" font-size="37.0" font-weight="bold" fill="#000">12</text>
<text x="840.95" y="2509.65" font-size="51.3" font-weight="bold" fill="#000" stroke="#000" stroke-width="0.6">–</text>
<text transform="translate(868.49 2506.10) scale(0.9034 1)" font-size="37.0" font-weight="bold" fill="#000">8</text>
<text x="1075.65" y="2506.05" font-size="51.3" font-weight="bold" fill="#000" stroke="#000" stroke-width="0.6">–</text>
<text transform="translate(1104.24 2500.80) scale(0.9032 1)" font-size="37.0" font-weight="bold" fill="#000">4</text>
<text transform="translate(594.6 2569.2) scale(1 1.06)" font-size="49.6" fill="#231f20">δ<tspan font-size="24" dy="-23.6" dx="1.2">11</tspan><tspan dy="23.6" dx="-0.5">B‰</tspan></text>
</svg>
</body>
</html>
